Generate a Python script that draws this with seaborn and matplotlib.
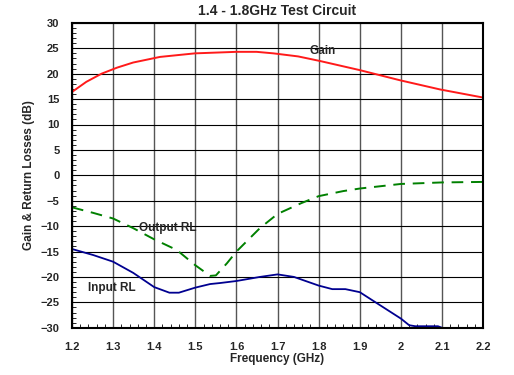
import numpy as np
import matplotlib

matplotlib.use("Agg")
import matplotlib.pyplot as plt  # noqa: E402
import seaborn as sns  # noqa: E402
from matplotlib.ticker import MultipleLocator  # noqa: E402

# values (frequency in GHz, dB)
gain_freq = [1.2, 1.235, 1.272, 1.31, 1.349, 1.414, 1.499, 1.6, 1.649, 1.69, 1.75,
             1.803, 1.9, 1.998, 2.095, 2.2]
gain_db = [16.4, 18.4, 20.0, 21.2, 22.2, 23.3, 24.0, 24.3, 24.3, 24.0, 23.4,
           22.5, 20.7, 18.7, 16.9, 15.3]

out_freq = [1.2, 1.252, 1.3, 1.349, 1.4, 1.455, 1.5, 1.536, 1.55, 1.577, 1.6,
            1.657, 1.7, 1.757, 1.8, 1.86, 1.9, 2.0, 2.1, 2.2]
out_rl = [-6.3, -7.4, -8.5, -10.4, -12.6, -14.7, -17.7, -19.8, -19.7, -17.3, -15.0,
          -10.4, -7.6, -5.5, -4.1, -3.1, -2.6, -1.7, -1.4, -1.3]

in_freq = [1.2, 1.252, 1.3, 1.349, 1.4, 1.437, 1.46, 1.5, 1.536, 1.56, 1.6, 1.657,
           1.7, 1.74, 1.8, 1.833, 1.865, 1.9, 1.948, 2.0, 2.02, 2.035, 2.09, 2.1]
in_rl = [-14.5, -15.7, -17.0, -19.2, -22.0, -23.1, -23.1, -22.1, -21.4, -21.2, -20.8,
         -20.0, -19.5, -20.0, -21.7, -22.4, -22.4, -23.0, -25.5, -28.2, -29.5, -29.7,
         -29.7, -30.0]

curve_labels = ["Gain", "Output RL", "Input RL"]
label_pos = [(1.81, 24.4), (1.434, -10.3), (1.297, -22.1)]

sns.set_style("white")
plt.rcParams["font.family"] = ["Liberation Sans", "DejaVu Sans"]

fig = plt.figure(figsize=(5.14, 3.75), dpi=100)
ax = fig.add_axes([0.140, 0.126, 0.800, 0.813])

sns.lineplot(x=gain_freq, y=gain_db, ax=ax, color="#ff1a1a", linewidth=1.4)
sns.lineplot(x=out_freq, y=out_rl, ax=ax, color="#008000", linewidth=1.4,
             linestyle=(0, (6, 4)))
sns.lineplot(x=in_freq, y=in_rl, ax=ax, color="#000090", linewidth=1.3)

ax.set_xlim(1.2, 2.2)
ax.set_ylim(-30, 30)
xt = np.round(np.arange(1.2, 2.21, 0.1), 1)
ax.set_xticks(xt)
ax.set_xticklabels([f"{v:g}" for v in xt])
ax.xaxis.set_minor_locator(MultipleLocator(0.02))
ax.yaxis.set_major_locator(MultipleLocator(5))
ax.yaxis.set_minor_locator(MultipleLocator(1))

ax.grid(True, which="major", axis="x", color="#555555", linewidth=1.0)
ax.grid(True, which="major", axis="y", color="black", linewidth=0.8)
ax.tick_params(which="both", direction="in", left=True, bottom=True, color="black")
ax.tick_params(which="major", length=0, labelsize=8)
ax.tick_params(axis="x", which="major", pad=10)
ax.tick_params(axis="y", which="major", pad=9)
ax.tick_params(which="minor", length=3, width=0.6)
for lab in ax.get_xticklabels() + ax.get_yticklabels():
    lab.set_fontweight("bold")
for sp in ax.spines.values():
    sp.set_color("black")
    sp.set_linewidth(1.5)

for text, (x, y) in zip(curve_labels, label_pos):
    ax.text(x, y, text, fontsize=8.5, fontweight="bold", ha="center", va="center")

ax.set_title("1.4 - 1.8GHz Test Circuit", fontsize=10, fontweight="bold", pad=6)
ax.set_xlabel("Frequency (GHz)", fontsize=8.5, fontweight="bold", labelpad=1)
ax.set_ylabel("Gain & Return Losses (dB)", fontsize=8.5, fontweight="bold", labelpad=4)

plt.savefig("out.png", dpi=100)
plt.close(fig)
